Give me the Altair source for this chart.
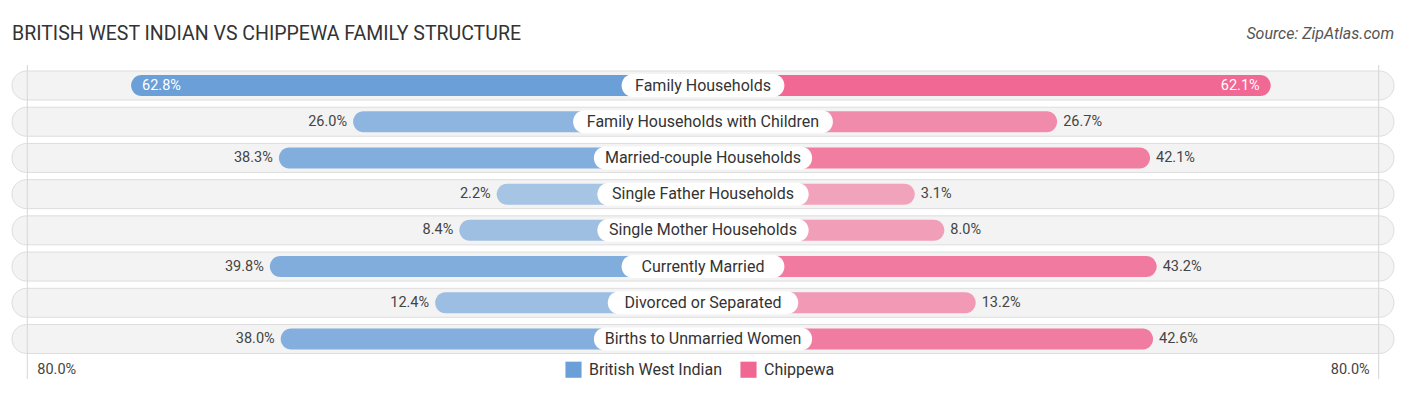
import altair as alt
import pandas as pd

# ---- data ----
categories = [
    "Family Households",
    "Family Households with Children",
    "Married-couple Households",
    "Single Father Households",
    "Single Mother Households",
    "Currently Married",
    "Divorced or Separated",
    "Births to Unmarried Women",
]
british_west_indian = [62.8, 26.0, 38.3, 2.2, 8.4, 39.8, 12.4, 38.0]
chippewa = [62.1, 26.7, 42.1, 3.1, 8.0, 43.2, 13.2, 42.6]
series = ["British West Indian", "Chippewa"]
colors = ["#6a9fd8", "#f06792"]
axis_max = [80.0]
title_text = "BRITISH WEST INDIAN VS CHIPPEWA FAMILY STRUCTURE"
source_text = "Source: ZipAtlas.com"

# ---- layout constants ----
W, H = 1390, 379
OFFSET = 32.0          # hidden base of each bar (in % units, under the label)
D = 115.2              # half domain
PX = W / (2 * D)       # pixels per unit
FONT = "Roboto"

rows = []
for i, c in enumerate(categories):
    rows.append({"cat": c, "series": series[0], "v": british_west_indian[i], "side": -1})
    rows.append({"cat": c, "series": series[1], "v": chippewa[i], "side": 1})
df = pd.DataFrame(rows)
cats_df = pd.DataFrame({"cat": categories})
grid_df = pd.DataFrame({"g": [-(axis_max[0] + OFFSET), axis_max[0] + OFFSET], "lab": [f"{axis_max[0]:.1f}%"] * 2})

xscale = alt.Scale(domain=[-D, D], range=[0, W], nice=False, zero=False)
yscale = alt.Scale(domain=categories, range=[59.4, 349.1], paddingInner=0, paddingOuter=0)
Y = alt.Y("cat:N", scale=yscale, axis=None, sort=categories)

base = alt.Chart(df).transform_calculate(
    x_end="datum.side * (datum.v + %f)" % OFFSET,
    x0="0",
    lab="format(datum.v, '.1f') + '%'",
)

pills = alt.Chart(cats_df).mark_bar(
    size=29, cornerRadius=14.5, color="#f3f3f3", stroke="#dddddd", strokeWidth=1
).encode(x=alt.value(4), x2=alt.value(W - 4), y=Y)

grid = alt.Chart(grid_df).mark_rule(color="#d6d6d6", strokeWidth=1).encode(
    x=alt.X("g:Q", scale=xscale, axis=None), y=alt.value(57), y2=alt.value(371)
)

bars = base.mark_bar(size=21, cornerRadius=10.5).encode(
    x=alt.X("x0:Q", scale=xscale, axis=None),
    x2="x_end:Q",
    y=Y,
    color=alt.Color(
        "series:N",
        scale=alt.Scale(domain=series, range=colors),
        legend=alt.Legend(
            title=None, orient="none", legendX=557, legendY=353, direction="horizontal",
            symbolType="square", symbolSize=260, symbolStrokeWidth=0,
            labelFontSize=16, labelFont=FONT, labelColor="#333333", columnPadding=18,
            labelOffset=7, symbolOpacity=1,
        ),
    ),
    opacity=alt.Opacity("v:Q", scale=alt.Scale(domain=[0, 63], range=[0.55, 1.0]), legend=None),
)

boxes = alt.Chart(cats_df).transform_calculate(
    hw="(length(datum.cat) * 6.93 + 45) / 2 / %f" % PX,
    nhw="-(length(datum.cat) * 6.93 + 45) / 2 / %f" % PX,
).mark_bar(size=23, cornerRadius=11.5, color="white").encode(
    x=alt.X("nhw:Q", scale=xscale, axis=None), x2="hw:Q", y=Y
)

labels = alt.Chart(cats_df).transform_calculate(x0="0").mark_text(
    fontSize=16, font=FONT, color="#333333"
).encode(x=alt.X("x0:Q", scale=xscale, axis=None), y=Y, text="cat:N")

VFS = 14.5
val_left_out = base.transform_filter("datum.side < 0 && datum.v < 55").mark_text(
    align="right", dx=-6, fontSize=VFS, font=FONT, color="#444444"
).encode(x=alt.X("x_end:Q", scale=xscale, axis=None), y=Y, text="lab:N")
val_right_out = base.transform_filter("datum.side > 0 && datum.v < 55").mark_text(
    align="left", dx=6, fontSize=VFS, font=FONT, color="#444444"
).encode(x=alt.X("x_end:Q", scale=xscale, axis=None), y=Y, text="lab:N")
val_left_in = base.transform_filter("datum.side < 0 && datum.v >= 55").mark_text(
    align="left", dx=11, fontSize=VFS, font=FONT, color="white"
).encode(x=alt.X("x_end:Q", scale=xscale, axis=None), y=Y, text="lab:N")
val_right_in = base.transform_filter("datum.side > 0 && datum.v >= 55").mark_text(
    align="right", dx=-11, fontSize=VFS, font=FONT, color="white"
).encode(x=alt.X("x_end:Q", scale=xscale, axis=None), y=Y, text="lab:N")

ax_left = alt.Chart(grid_df.iloc[[0]]).mark_text(
    align="left", dx=10, fontSize=VFS, font=FONT, color="#444444"
).encode(x=alt.X("g:Q", scale=xscale, axis=None), y=alt.value(362), text="lab:N")
ax_right = alt.Chart(grid_df.iloc[[1]]).mark_text(
    align="right", dx=-9, fontSize=VFS, font=FONT, color="#444444"
).encode(x=alt.X("g:Q", scale=xscale, axis=None), y=alt.value(362), text="lab:N")

title = alt.Chart(pd.DataFrame({"t": [title_text]})).mark_text(
    align="left", baseline="middle", fontSize=19.5, font=FONT, color="#333333"
).encode(x=alt.value(4), y=alt.value(26), text="t:N")
source = alt.Chart(pd.DataFrame({"t": [source_text]})).mark_text(
    align="right", baseline="middle", fontSize=16, font=FONT, fontStyle="italic", color="#555555"
).encode(x=alt.value(W - 4), y=alt.value(26), text="t:N")

chart = alt.layer(
    pills, grid, bars, boxes, labels,
    val_left_out, val_right_out, val_left_in, val_right_in,
    ax_left, ax_right, title, source,
).properties(
    width=W, height=H, padding=0, autosize=alt.AutoSizeParams(type="none")
).configure_view(stroke=None).resolve_scale(x="shared", y="shared")

chart.save("out.html", embed_options={"renderer": "svg", "actions": False})
